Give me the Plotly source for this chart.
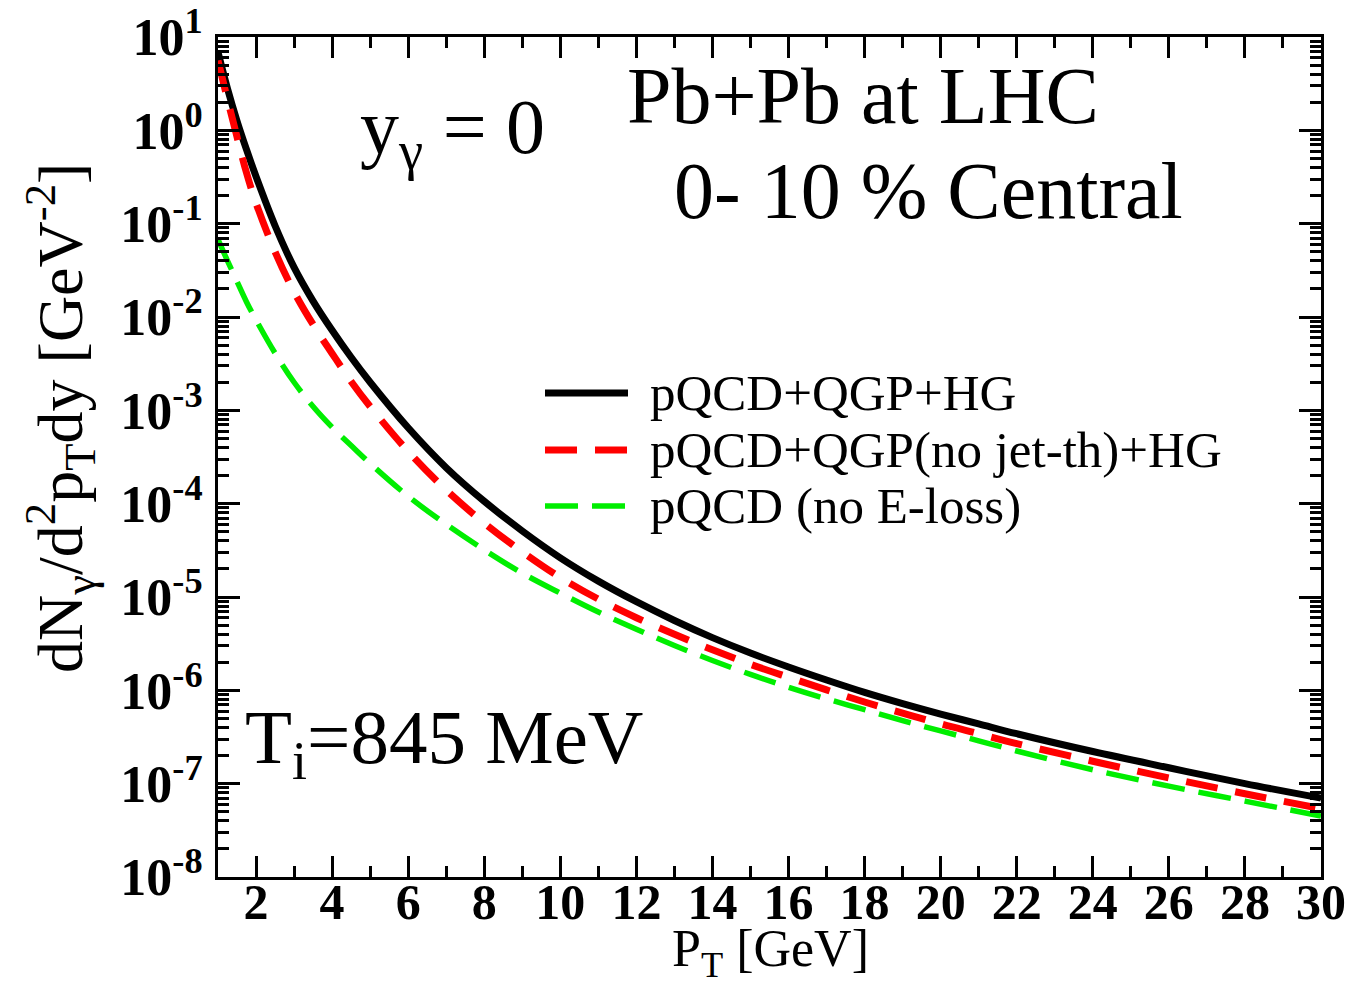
import plotly.graph_objects as go

# ---------------- data ----------------
pt = [1, 1.25, 1.5, 1.75, 2, 2.5, 3, 3.5, 4, 4.5, 5, 6, 7, 8, 9, 10, 11, 12, 13,
      14, 15, 16, 17, 18, 19, 20, 21, 22, 24, 26, 28, 30]

total = [6.9, 2.8, 1.26, 0.62, 0.32, 0.095, 0.034, 0.0148, 7.2e-3, 3.7e-3, 2.0e-3,
         6.5e-4, 2.43e-4, 1.06e-4, 5.1e-5, 2.63e-5, 1.48e-5, 8.9e-6, 5.6e-6, 3.67e-6,
         2.51e-6, 1.78e-6, 1.29e-6, 9.5e-7, 7.2e-7, 5.56e-7, 4.37e-7, 3.43e-7, 2.21e-7,
         1.48e-7, 1.0e-7, 7.0e-8]

no_jet_th = [5.6, 2.14, 0.85, 0.35, 0.166, 0.050, 0.0186, 8.3e-3, 4.07e-3, 2.04e-3, 1.1e-3,
             3.63e-4, 1.40e-4, 6.2e-5, 3.05e-5, 1.62e-5, 9.5e-6, 6.0e-6, 3.98e-6, 2.72e-6,
             1.9e-6, 1.38e-6, 1.01e-6, 7.5e-7, 5.7e-7, 4.37e-7, 3.43e-7, 2.69e-7, 1.74e-7,
             1.15e-7, 7.8e-8, 5.4e-8]

pqcd_only = [0.068, 0.040, 0.024, 0.0145, 9.3e-3, 4.1e-3, 2.0e-3, 1.1e-3, 6.6e-4, 4.2e-4,
             2.7e-4, 1.2e-4, 6.0e-5, 3.2e-5, 1.8e-5, 1.1e-5, 6.9e-6, 4.52e-6, 3.02e-6,
             2.09e-6, 1.48e-6, 1.08e-6, 8.1e-7, 6.2e-7, 4.73e-7, 3.67e-7, 2.88e-7, 2.24e-7,
             1.41e-7, 9.4e-8, 6.5e-8, 4.5e-8]

series_names = ["pQCD+QGP+HG", "pQCD+QGP(no jet-th)+HG", "pQCD (no E-loss)"]
series_values = [total, no_jet_th, pqcd_only]

x_tick_vals = list(range(2, 31, 2))
y_exponents = list(range(-8, 2))

x_title = "P<sub>T</sub> [GeV]"
y_title = "dN<sub>γ</sub>/d<sup>2</sup>p<sub>T</sub>dy [GeV<sup>-2</sup>]"

# ---------------- styles ----------------
colors = ["#000000", "#ff0000", "#00ee00"]
widths = [7, 7, 5.5]
dashes = ["solid", "32px,18px", "33px,14px"]
SERIF = "Liberation Serif"

W, H = 1350, 990
L, R, T, B = 218, 1321, 37, 877


def fx(px):
    return (px - L) / (R - L)


def fy(py):
    return (B - py) / (B - T)


fig = go.Figure()
for name, vals, c, w, d in zip(series_names, series_values, colors, widths, dashes):
    fig.add_trace(go.Scatter(x=pt, y=vals, mode="lines", name=name,
                             line=dict(color=c, width=w, dash=d, shape="spline", smoothing=1.0),
                             showlegend=False))

minor_y = [m * 10.0 ** k for k in range(-8, 1) for m in range(2, 10)]

fig.update_xaxes(
    range=[1, 30], showline=True, linewidth=3, linecolor="black", mirror="allticks",
    ticks="inside", ticklen=21, tickwidth=2.5, tickcolor="black",
    tickmode="array", tickvals=x_tick_vals, ticktext=[f"{v}" for v in x_tick_vals],
    tickfont=dict(family=SERIF, size=50, color="black", weight="bold"),
    ticklabelstandoff=-21, automargin=False,
    minor=dict(ticks="inside", ticklen=11, tickwidth=2.5, tickcolor="black",
               tickmode="linear", tick0=1, dtick=1),
    showgrid=False, zeroline=False,
)
fig.update_yaxes(
    type="log", range=[-8, 1], showline=True, linewidth=3, linecolor="black", mirror="allticks",
    ticks="inside", ticklen=22, tickwidth=2.5, tickcolor="black",
    tickmode="array", tickvals=[10.0 ** e for e in y_exponents],
    ticktext=[f"10<sup>{e}</sup>" for e in y_exponents],
    tickfont=dict(family=SERIF, size=52, color="black", weight="bold"),
    ticklabelstandoff=2, automargin=False,
    minor=dict(ticks="inside", ticklen=11, tickwidth=2.5, tickcolor="black",
               tickmode="array", tickvals=minor_y),
    showgrid=False, zeroline=False,
)

# axis titles as annotations (the reference places them off-centre)
fig.add_annotation(text=x_title, x=fx(770), y=fy(953), xref="paper", yref="paper",
                   xanchor="center", yanchor="middle", showarrow=False,
                   font=dict(family=SERIF, size=52, color="black"))
fig.add_annotation(text=y_title, x=fx(60), y=fy(418), xref="paper", yref="paper",
                   xanchor="center", yanchor="middle", showarrow=False, textangle=-90,
                   font=dict(family=SERIF, size=64, color="black"))

annotations = [
    dict(text="Pb+Pb at LHC", x=fx(625), y=fy(96), size=80),
    dict(text="0- 10 % Central", x=fx(672), y=fy(191), size=80),
    dict(text="y<sub>γ</sub> = 0", x=fx(358), y=fy(132), size=78),
    dict(text="T<sub>i</sub>=845 MeV", x=fx(243), y=fy(742), size=77),
]
for a in annotations:
    fig.add_annotation(text=a["text"], x=a["x"], y=a["y"], xref="paper", yref="paper",
                       xanchor="left", yanchor="middle", showarrow=False,
                       font=dict(family=SERIF, size=a["size"], color="black"))

# manual legend (longer line samples, as in the reference)
leg_rows_y = [393, 450, 506]
for name, c, w, d, py in zip(series_names, colors, widths, dashes, leg_rows_y):
    fig.add_shape(type="line", xref="paper", yref="paper", x0=fx(545), x1=fx(628),
                  y0=fy(py), y1=fy(py), line=dict(color=c, width=w, dash=d))
    fig.add_annotation(text=name, x=fx(648), y=fy(py), xref="paper", yref="paper",
                       xanchor="left", yanchor="middle", showarrow=False,
                       font=dict(family=SERIF, size=51, color="black"))

fig.update_layout(
    width=W, height=H, margin=dict(l=L, r=W - R, t=T, b=H - B),
    paper_bgcolor="white", plot_bgcolor="white", showlegend=False,
)

fig.write_html("out.html")
